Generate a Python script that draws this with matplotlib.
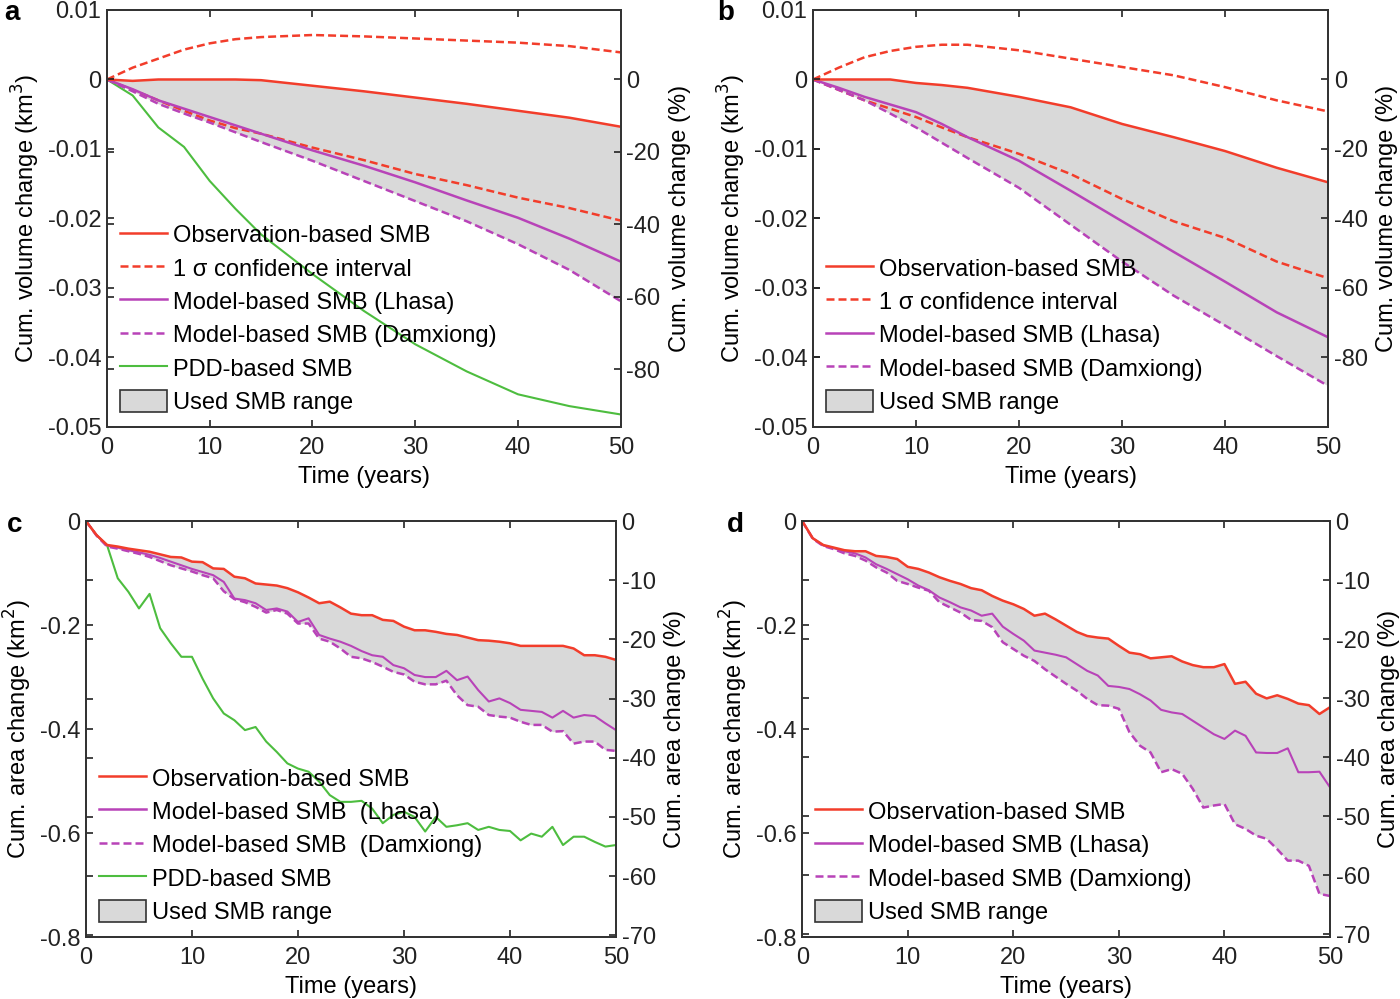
import matplotlib
matplotlib.use('Agg')
import matplotlib.pyplot as plt
from matplotlib.ticker import FuncFormatter
from matplotlib.patches import Patch
from matplotlib.lines import Line2D

plt.rcParams['font.family'] = ['Liberation Sans', 'DejaVu Sans']
plt.rcParams['axes.unicode_minus'] = False

# ---- data ----
# panels a, b : cumulative volume change (km3)
years_v = [0, 2.5, 5, 7.5, 10, 12.5, 15, 20, 25, 30, 35, 40, 45, 50]

a_obs = [0, -0.0002, 0, 0, 0, 0, -0.0001, -0.0009, -0.0017, -0.0026, -0.0035, -0.0045, -0.0055, -0.0068]
a_ci_up = [0, 0.0017, 0.0030, 0.0043, 0.0052, 0.0058, 0.0061, 0.0064, 0.0062, 0.0059, 0.0056, 0.0053, 0.0048, 0.0039]
a_ci_lo = [0, -0.0015, -0.0030, -0.0045, -0.0059, -0.0070, -0.0078, -0.0098, -0.0116, -0.0136, -0.0152, -0.0170, -0.0185, -0.0203]
a_lhasa = [0, -0.0014, -0.0030, -0.0042, -0.0054, -0.0066, -0.0078, -0.0102, -0.0124, -0.0148, -0.0174, -0.0199, -0.0229, -0.0262]
a_damx = [0, -0.0017, -0.0035, -0.0049, -0.0062, -0.0076, -0.0090, -0.0117, -0.0146, -0.0175, -0.0204, -0.0237, -0.0274, -0.0319]
a_pdd = [0, -0.0023, -0.0069, -0.0097, -0.0146, -0.0186, -0.0223, -0.0280, -0.0333, -0.0381, -0.0420, -0.0453, -0.0470, -0.0482]

b_obs = [0, 0, 0, 0, -0.0005, -0.0008, -0.0012, -0.0025, -0.0040, -0.0064, -0.0083, -0.0103, -0.0127, -0.0148]
b_ci_up = [0, 0.0017, 0.0032, 0.0041, 0.0047, 0.0050, 0.0050, 0.0042, 0.0030, 0.0018, 0.0006, -0.0011, -0.0030, -0.0046]
b_ci_lo = [0, -0.0015, -0.0030, -0.0042, -0.0054, -0.0069, -0.0083, -0.0107, -0.0136, -0.0172, -0.0204, -0.0228, -0.0262, -0.0286]
b_lhasa = [0, -0.0012, -0.0025, -0.0036, -0.0047, -0.0064, -0.0083, -0.0117, -0.0160, -0.0204, -0.0248, -0.0291, -0.0335, -0.0371]
b_damx = [0, -0.0015, -0.0030, -0.0049, -0.0069, -0.0091, -0.0113, -0.0156, -0.0209, -0.0262, -0.0311, -0.0354, -0.0398, -0.0441]

# panels c, d : cumulative area change (km2), yearly
years_a = list(range(51))

c_obs = [0, -0.027, -0.046, -0.049, -0.053, -0.056, -0.059, -0.064, -0.069, -0.070,
         -0.078, -0.079, -0.091, -0.092, -0.107, -0.110, -0.120, -0.122, -0.124, -0.129,
         -0.137, -0.147, -0.158, -0.155, -0.166, -0.178, -0.181, -0.181, -0.190, -0.192,
         -0.203, -0.210, -0.210, -0.213, -0.217, -0.219, -0.224, -0.229, -0.230, -0.232,
         -0.235, -0.240, -0.240, -0.240, -0.240, -0.240, -0.245, -0.258, -0.258, -0.261, -0.267]
c_lhasa = [0, -0.027, -0.047, -0.051, -0.056, -0.060, -0.065, -0.071, -0.078, -0.085,
           -0.092, -0.098, -0.104, -0.117, -0.149, -0.152, -0.158, -0.171, -0.168, -0.174,
           -0.194, -0.187, -0.219, -0.226, -0.232, -0.240, -0.250, -0.258, -0.261, -0.277,
           -0.283, -0.296, -0.300, -0.300, -0.288, -0.306, -0.299, -0.325, -0.347, -0.341,
           -0.350, -0.363, -0.365, -0.367, -0.378, -0.365, -0.378, -0.373, -0.375, -0.389, -0.402]
c_damx = [0, -0.028, -0.049, -0.053, -0.058, -0.063, -0.069, -0.077, -0.085, -0.091,
          -0.097, -0.104, -0.110, -0.135, -0.150, -0.156, -0.165, -0.176, -0.171, -0.178,
          -0.197, -0.197, -0.226, -0.232, -0.245, -0.261, -0.264, -0.271, -0.280, -0.290,
          -0.295, -0.309, -0.314, -0.314, -0.307, -0.335, -0.354, -0.357, -0.373, -0.376,
          -0.378, -0.386, -0.392, -0.392, -0.405, -0.404, -0.428, -0.424, -0.424, -0.440, -0.442]
c_pdd = [0, -0.027, -0.047, -0.110, -0.136, -0.168, -0.140, -0.206, -0.235, -0.261,
         -0.261, -0.303, -0.341, -0.370, -0.383, -0.402, -0.396, -0.424, -0.444, -0.466,
         -0.476, -0.482, -0.501, -0.527, -0.540, -0.540, -0.538, -0.553, -0.581, -0.565,
         -0.559, -0.569, -0.597, -0.569, -0.588, -0.585, -0.581, -0.594, -0.588, -0.594,
         -0.596, -0.614, -0.601, -0.607, -0.588, -0.623, -0.607, -0.607, -0.617, -0.626, -0.623]

d_obs = [0, -0.033, -0.046, -0.051, -0.056, -0.058, -0.058, -0.067, -0.069, -0.073,
         -0.088, -0.092, -0.099, -0.108, -0.115, -0.121, -0.129, -0.133, -0.144, -0.153,
         -0.160, -0.169, -0.182, -0.178, -0.189, -0.201, -0.213, -0.221, -0.224, -0.226,
         -0.240, -0.253, -0.256, -0.264, -0.262, -0.260, -0.270, -0.277, -0.281, -0.281,
         -0.275, -0.313, -0.309, -0.332, -0.341, -0.335, -0.342, -0.351, -0.354, -0.371, -0.358]
d_lhasa = [0, -0.033, -0.047, -0.052, -0.058, -0.062, -0.070, -0.083, -0.092, -0.102,
           -0.112, -0.124, -0.133, -0.147, -0.156, -0.166, -0.172, -0.182, -0.178, -0.203,
           -0.217, -0.230, -0.249, -0.253, -0.257, -0.262, -0.275, -0.288, -0.297, -0.317,
           -0.319, -0.323, -0.333, -0.345, -0.363, -0.368, -0.371, -0.384, -0.397, -0.410,
           -0.419, -0.403, -0.413, -0.445, -0.446, -0.446, -0.437, -0.483, -0.483, -0.482, -0.512]
d_damx = [0, -0.034, -0.048, -0.054, -0.062, -0.067, -0.076, -0.089, -0.099, -0.115,
          -0.121, -0.128, -0.134, -0.156, -0.166, -0.176, -0.190, -0.192, -0.204, -0.233,
          -0.246, -0.259, -0.269, -0.285, -0.299, -0.313, -0.326, -0.342, -0.354, -0.355,
          -0.361, -0.406, -0.432, -0.445, -0.483, -0.477, -0.486, -0.515, -0.551, -0.547,
          -0.544, -0.583, -0.592, -0.605, -0.611, -0.631, -0.653, -0.653, -0.663, -0.717, -0.721]

# reference totals implied by the two y axes (km3 / km2 = 100 %)
vol_ref_a = 0.0521
vol_ref_b = 0.050
area_ref_c = 1.138
area_ref_d = 1.135

RED = '#f23d2b'
PURPLE = '#b843b8'
GREEN = '#4dbd3f'
FILL = '#d9d9d9'
DASH = (3.2, 1.6)
FS = 17

fig = plt.figure(figsize=(14, 9.99), dpi=100)


def fmt(v, pos):
    v = round(v, 4)
    if v == 0:
        return '0'
    return '%g' % v


def setup_axes(ax, ax2, ylim, ref, yticks, rticks, ylab, rlab):
    ax.set_xlim(0, 50)
    ax.set_ylim(*ylim)
    ax.set_xticks([0, 10, 20, 30, 40, 50])
    ax.set_yticks(yticks)
    ax.yaxis.set_major_formatter(FuncFormatter(fmt))
    ax2.set_ylim(ylim[0] / ref * 100, ylim[1] / ref * 100)
    ax2.set_yticks(rticks)
    ax2.yaxis.set_major_formatter(FuncFormatter(fmt))
    for a in (ax, ax2):
        a.tick_params(direction='in', length=5, width=1.2, labelsize=FS, colors='#222222')
        for s in a.spines.values():
            s.set_color('#333333')
            s.set_linewidth(1.3)
    ax.tick_params(top=True, left=True, right=False)
    ax.tick_params(axis='x', pad=7)
    ax.tick_params(axis='y', pad=4)
    ax2.yaxis.set_ticks_position('both')
    ax2.tick_params(labelleft=False, labelright=True, pad=4)
    ax.set_xlabel('Time (years)', fontsize=FS, labelpad=5)
    ax.set_ylabel(ylab, fontsize=FS, labelpad=4)
    ax2.set_ylabel(rlab, fontsize=FS, labelpad=6)


def add_legend(ax, handles, labels):
    ax.legend(handles, labels, loc='lower left', bbox_to_anchor=(0.0, 0.0),
              frameon=False, fontsize=FS, handlelength=2.0, handletextpad=0.25,
              handleheight=1.1, labelspacing=0.38, borderaxespad=0.15)


h_obs = Line2D([], [], color=RED, lw=1.8)
h_ci = Line2D([], [], color=RED, lw=1.8, dashes=DASH)
h_lh = Line2D([], [], color=PURPLE, lw=1.8)
h_dm = Line2D([], [], color=PURPLE, lw=1.8, dashes=DASH)
h_pdd = Line2D([], [], color=GREEN, lw=1.5)
h_fill = Patch(facecolor=FILL, edgecolor='#333333', lw=1.2)

# ---- panel a ----
ax = fig.add_axes([0.0764, 0.5726, 0.367, 0.4174])
ax2 = ax.twinx()
ax.fill_between(years_v, a_obs, a_damx, color=FILL, lw=0)
ax.plot(years_v, a_ci_up, color=RED, lw=1.8, dashes=DASH)
ax.plot(years_v, a_ci_lo, color=RED, lw=1.8, dashes=DASH)
ax.plot(years_v, a_pdd, color=GREEN, lw=1.5)
ax.plot(years_v, a_damx, color=PURPLE, lw=1.8, dashes=DASH)
ax.plot(years_v, a_lhasa, color=PURPLE, lw=1.8)
ax.plot(years_v, a_obs, color=RED, lw=1.8)
setup_axes(ax, ax2, (-0.05, 0.01), vol_ref_a,
           [-0.05, -0.04, -0.03, -0.02, -0.01, 0, 0.01], [-80, -60, -40, -20, 0],
           'Cum. volume change (km$^3$)', 'Cum. volume change (%)')
add_legend(ax, [h_obs, h_ci, h_lh, h_dm, h_pdd, h_fill],
           ['Observation-based SMB', '1 σ confidence interval', 'Model-based SMB (Lhasa)',
            'Model-based SMB (Damxiong)', 'PDD-based SMB', 'Used SMB range'])

# ---- panel b ----
ax = fig.add_axes([0.5807, 0.5726, 0.368, 0.4174])
ax2 = ax.twinx()
ax.fill_between(years_v, b_obs, b_damx, color=FILL, lw=0)
ax.plot(years_v, b_ci_up, color=RED, lw=1.8, dashes=DASH)
ax.plot(years_v, b_ci_lo, color=RED, lw=1.8, dashes=DASH)
ax.plot(years_v, b_damx, color=PURPLE, lw=1.8, dashes=DASH)
ax.plot(years_v, b_lhasa, color=PURPLE, lw=1.8)
ax.plot(years_v, b_obs, color=RED, lw=1.8)
setup_axes(ax, ax2, (-0.05, 0.01), vol_ref_b,
           [-0.05, -0.04, -0.03, -0.02, -0.01, 0, 0.01], [-80, -60, -40, -20, 0],
           'Cum. volume change (km$^3$)', 'Cum. volume change (%)')
add_legend(ax, [h_obs, h_ci, h_lh, h_dm, h_fill],
           ['Observation-based SMB', '1 σ confidence interval', 'Model-based SMB (Lhasa)',
            'Model-based SMB (Damxiong)', 'Used SMB range'])

# ---- panel c ----
ax = fig.add_axes([0.0614, 0.062, 0.3786, 0.4164])
ax2 = ax.twinx()
ax.fill_between(years_a, c_obs, c_damx, color=FILL, lw=0)
ax.plot(years_a, c_pdd, color=GREEN, lw=1.5)
ax.plot(years_a, c_damx, color=PURPLE, lw=1.8, dashes=DASH)
ax.plot(years_a, c_lhasa, color=PURPLE, lw=1.5)
ax.plot(years_a, c_obs, color=RED, lw=1.8)
setup_axes(ax, ax2, (-0.8, 0), area_ref_c,
           [-0.8, -0.6, -0.4, -0.2, 0], [-70, -60, -50, -40, -30, -20, -10, 0],
           'Cum. area change (km$^2$)', 'Cum. area change (%)')
add_legend(ax, [h_obs, h_lh, h_dm, h_pdd, h_fill],
           ['Observation-based SMB', 'Model-based SMB  (Lhasa)', 'Model-based SMB  (Damxiong)',
            'PDD-based SMB', 'Used SMB range'])

# ---- panel d ----
ax = fig.add_axes([0.573, 0.062, 0.377, 0.4164])
ax2 = ax.twinx()
ax.fill_between(years_a, d_obs, d_damx, color=FILL, lw=0)
ax.plot(years_a, d_damx, color=PURPLE, lw=1.8, dashes=DASH)
ax.plot(years_a, d_lhasa, color=PURPLE, lw=1.5)
ax.plot(years_a, d_obs, color=RED, lw=1.8)
setup_axes(ax, ax2, (-0.8, 0), area_ref_d,
           [-0.8, -0.6, -0.4, -0.2, 0], [-70, -60, -50, -40, -30, -20, -10, 0],
           'Cum. area change (km$^2$)', 'Cum. area change (%)')
add_legend(ax, [h_obs, h_lh, h_dm, h_fill],
           ['Observation-based SMB', 'Model-based SMB (Lhasa)', 'Model-based SMB (Damxiong)',
            'Used SMB range'])

# panel letters
for lab, x, y in [('a', 0.003, 0.987), ('b', 0.512, 0.987), ('c', 0.005, 0.474), ('d', 0.519, 0.474)]:
    fig.text(x, y, lab, fontsize=20, fontweight='bold', va='center', ha='left')

fig.savefig('out.png', dpi=100)
